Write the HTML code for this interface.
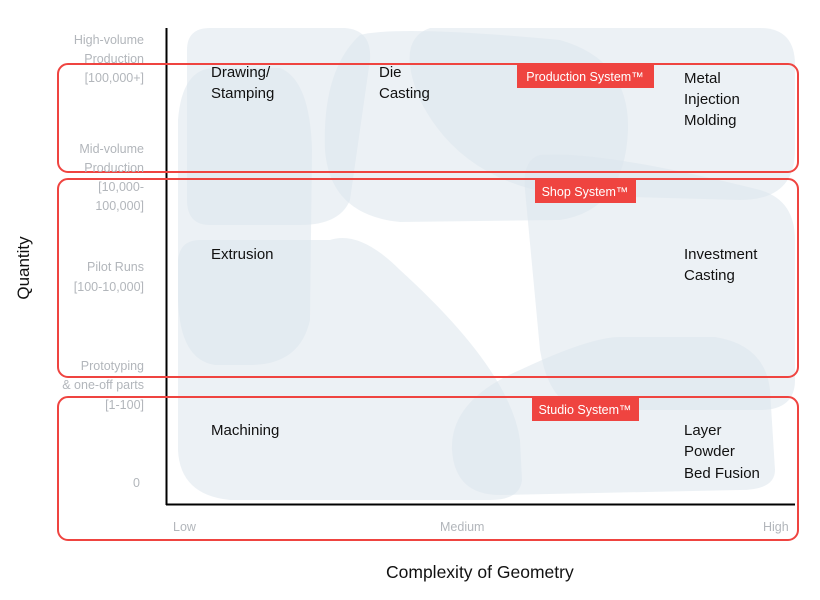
<!DOCTYPE html><html><head><style>body{margin:0;background:#fff}svg{display:block}text{font-family:"Liberation Sans",sans-serif}</style></head><body>
<svg width="820" height="600" viewBox="0 0 820 600" xmlns="http://www.w3.org/2000/svg">
<g fill="#dde5ec" fill-opacity="0.55">
<path d="M210,28 L345,28 Q372,30 370,60 L350,200 Q340,225 300,225 L210,225 Q187,225 187,200 L187,50 Q187,28 210,28Z"/>
<path d="M215,68 L280,68 Q310,80 312,150 L310,320 Q300,365 250,365 L215,365 Q180,360 178,300 L178,120 Q182,68 215,68Z"/>
<path d="M200,240 L330,240 Q360,230 400,270 Q510,370 520,440 L522,480 Q520,500 490,500 L230,500 Q180,495 178,450 L178,260 Q180,240 200,240Z"/>
<path d="M360,35 Q400,25 560,40 Q630,60 628,130 Q625,210 560,220 L400,222 Q330,215 325,150 Q322,70 360,35Z"/>
<path d="M430,28 L760,28 Q795,28 795,65 L795,150 Q795,200 740,200 L560,195 Q460,180 420,100 Q395,40 430,28Z"/>
<path d="M540,155 Q600,150 760,190 Q795,200 795,240 L795,380 Q795,410 760,410 L590,410 Q550,410 540,350 L525,190 Q522,160 540,155Z"/>
<path d="M620,337 L715,337 Q765,345 770,390 L775,470 Q775,490 740,490 L500,495 Q455,495 452,450 Q450,400 520,370 Q590,337 620,337Z"/>
</g>
<line x1="166.5" y1="28" x2="166.5" y2="505" stroke="#000" stroke-width="2"/>
<line x1="166" y1="504.5" x2="795" y2="504.5" stroke="#000" stroke-width="2"/>
<g fill="none" stroke="#ef4440" stroke-width="2">
<rect x="58" y="64" width="740" height="108" rx="10"/>
<rect x="58" y="179" width="740" height="198" rx="10"/>
<rect x="58" y="397" width="740" height="143" rx="10"/>
</g>
<g fill="#ef4440">
<rect x="517" y="64" width="137" height="24"/>
<rect x="535" y="179" width="101" height="24"/>
<rect x="532" y="398" width="107" height="23"/>
</g>
<g fill="#fff" font-size="12.5" text-anchor="middle">
<text x="585" y="81">Production System™</text>
<text x="585" y="196">Shop System™</text>
<text x="585" y="414">Studio System™</text>
</g>
<g fill="#b2b6bb" font-size="12.5" text-anchor="end">
<text x="144" y="44">High-volume</text>
<text x="144" y="63">Production</text>
<text x="144" y="82">[100,000+]</text>
<text x="144" y="153">Mid-volume</text>
<text x="144" y="172">Production</text>
<text x="144" y="191">[10,000-</text>
<text x="144" y="210">100,000]</text>
<text x="144" y="271">Pilot Runs</text>
<text x="144" y="291">[100-10,000]</text>
<text x="144" y="370">Prototyping</text>
<text x="144" y="389">&amp; one-off parts</text>
<text x="144" y="409">[1-100]</text>
<text x="140" y="487">0</text>
</g>
<g fill="#b2b6bb" font-size="12.5">
<text x="173" y="531">Low</text>
<text x="440" y="531">Medium</text>
<text x="763" y="531">High</text>
</g>
<g fill="#111" font-size="15">
<text x="211" y="77">Drawing/</text><text x="211" y="98">Stamping</text>
<text x="379" y="77">Die</text><text x="379" y="98">Casting</text>
<text x="684" y="83">Metal</text><text x="684" y="104">Injection</text><text x="684" y="125">Molding</text>
<text x="211" y="259">Extrusion</text>
<text x="684" y="259">Investment</text><text x="684" y="280">Casting</text>
<text x="211" y="435">Machining</text>
<text x="684" y="435">Layer</text><text x="684" y="456">Powder</text><text x="684" y="478">Bed Fusion</text>
</g>
<text x="386" y="578" font-size="17.5" fill="#111">Complexity of Geometry</text>
<text transform="translate(29,268) rotate(-90)" font-size="17" fill="#111" text-anchor="middle">Quantity</text>
</svg>
</body></html>
